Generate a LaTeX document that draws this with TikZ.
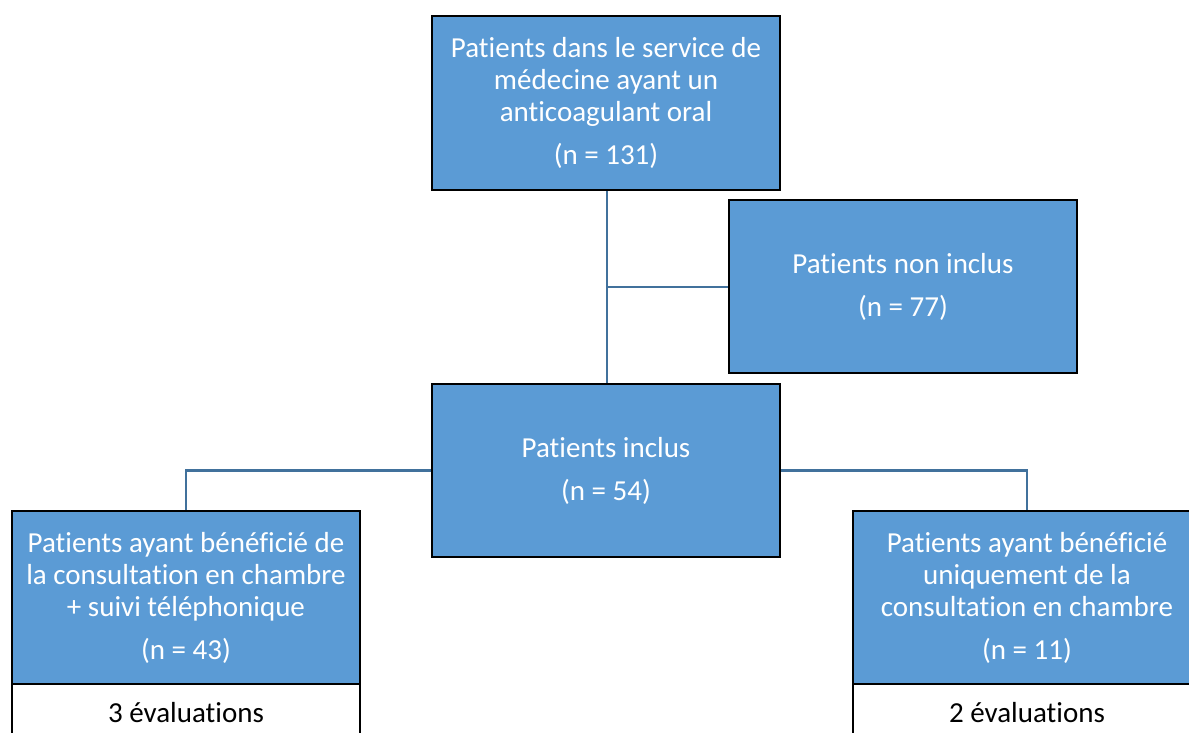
\documentclass[tikz,border=0pt]{standalone}
\usepackage{fontspec}
\setmainfont{Carlito}[Ligatures=NoCommon]
\definecolor{boxblue}{HTML}{5B9BD5}
\definecolor{linkblue}{HTML}{41719C}
\begin{document}
\begin{tikzpicture}[x=1pt,y=-1pt,
  bluebox/.style={draw=black,line width=2pt,fill=boxblue,text=white,minimum width=348pt,minimum height=173pt,align=center,inner sep=0pt,
    font=\fontsize{29}{32}\selectfont},
  whitebox/.style={draw=black,line width=2pt,fill=white,text=black,minimum width=348pt,minimum height=58pt,align=center,inner sep=0pt,
    font=\fontsize{29}{32}\selectfont},
  link/.style={draw=linkblue,line width=2.5pt}]
\useasboundingbox (0,0) rectangle (1189,733);
\fill[white] (0,0) rectangle (1189,733);
\coordinate (jn) at (607,287);
\node[bluebox,minimum height=174pt] (top) at (606,103) {Patients dans le service de\\médecine ayant un\\anticoagulant oral\\[11pt](n = 131)};
\node[bluebox] (non) at (903,286.5) {Patients non inclus\\[11pt](n = 77)};
\node[bluebox] (inc) at (606,470.5) {Patients inclus\\[11pt](n = 54)};
\node[whitebox] (lev) at (186,713) {3 évaluations};
\node[whitebox] (rev) at (1027,713) {2 évaluations};
\node[bluebox] (lft) at (186,597.5) {Patients ayant bénéficié de\\la consultation en chambre\\+ suivi téléphonique\\[11pt](n = 43)};
\node[bluebox] (rgt) at (1027,597.5) {Patients ayant bénéficié\\uniquement de la\\consultation en chambre\\[11pt](n = 11)};
\draw[link] (top.south -| jn) -- (inc.north -| jn);
\draw[link] (jn) -- (jn -| non.west);
\draw[link] (inc.west) -| (lft.north);
\draw[link] (inc.east) -| (rgt.north);
\end{tikzpicture}
\end{document}
